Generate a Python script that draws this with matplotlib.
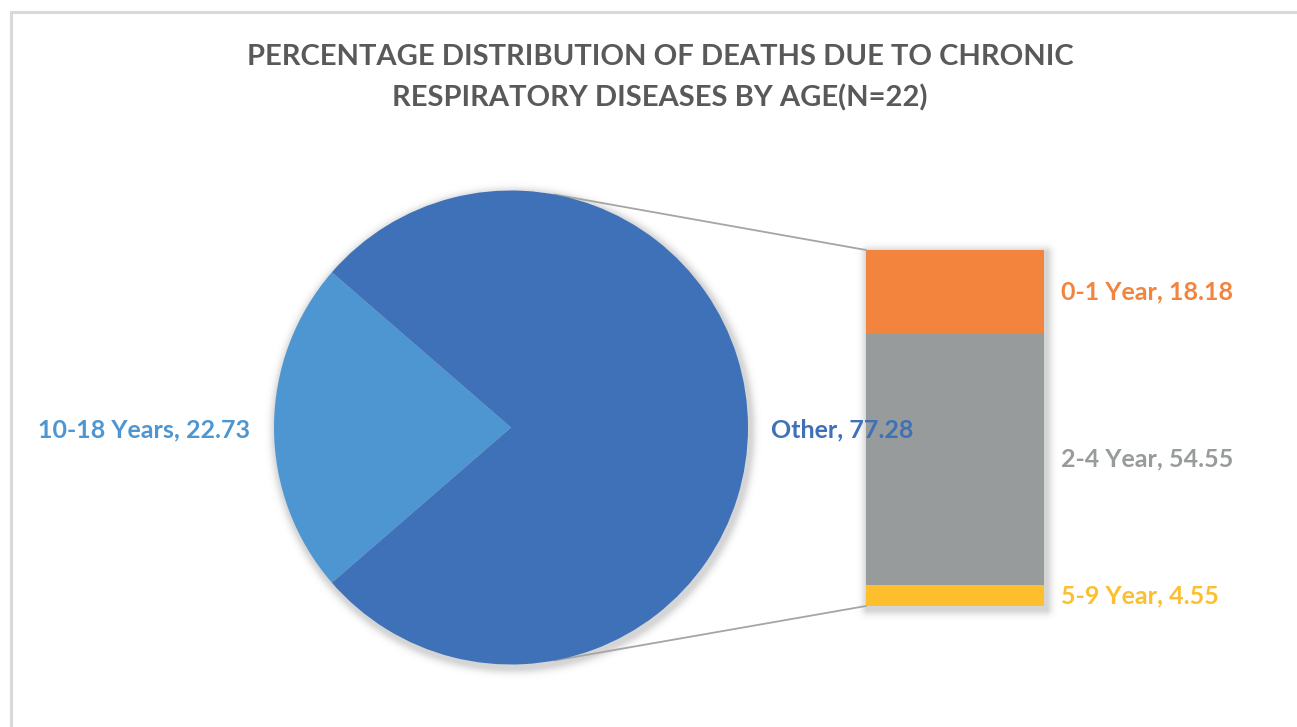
import numpy as np
import matplotlib.pyplot as plt
from matplotlib.patches import ConnectionPatch
from matplotlib.lines import Line2D

# ---- data ----
pie_labels = ["10-18 Years", "Other"]
pie_values = [22.73, 77.28]
pie_colors = ["#4E96D1", "#3F71B8"]

bar_labels = ["0-1 Year", "2-4 Year", "5-9 Year"]
bar_values = [18.18, 54.55, 4.55]
bar_colors = ["#F3843D", "#989B9C", "#FDBF2D"]

title = ("PERCENTAGE DISTRIBUTION OF DEATHS DUE TO CHRONIC\n"
         "RESPIRATORY DISEASES BY AGE(N=22)")

# ---- layout (pixels, origin at top-left) ----
W, H = 1297, 727
PIE_CX, PIE_CY, PIE_R = 511, 427.5, 237
BAR_X0, BAR_X1, BAR_Y0, BAR_Y1 = 866, 1044, 250, 606
FONT = ["Lato", "DejaVu Sans"]
LABEL_SIZE = 18
TITLE_SIZE = 21


def px_rect(x0, y0, x1, y1):
    return [x0 / W, 1 - y1 / H, (x1 - x0) / W, (y1 - y0) / H]


fig = plt.figure(figsize=(W / 100, H / 100), dpi=100)
fig.patch.set_facecolor("white")

# background layer: soft drop shadows and the chart border
bg = fig.add_axes([0, 0, 1, 1], zorder=0)
bg.set_axis_off()
bg.set_xlim(0, W)
bg.set_ylim(H, 0)
yy, xx = np.mgrid[0:H, 0:W] + 0.5
d_pie = np.hypot(xx - PIE_CX - 2, yy - PIE_CY - 3) - PIE_R
qx = np.abs(xx - (BAR_X0 + BAR_X1) / 2 - 2) - (BAR_X1 - BAR_X0) / 2
qy = np.abs(yy - (BAR_Y0 + BAR_Y1) / 2 - 3) - (BAR_Y1 - BAR_Y0) / 2
d_bar = np.hypot(np.maximum(qx, 0), np.maximum(qy, 0))
d = np.maximum(np.minimum(d_pie, d_bar), 0)
alpha = 0.30 * np.exp(-(d / 6.0) ** 2)
shadow = np.zeros((H, W, 4))
shadow[..., :3] = 0.45
shadow[..., 3] = alpha
bg.imshow(shadow, extent=(0, W, H, 0), interpolation="bilinear", zorder=0)
bg.add_line(Line2D([10.5, 10.5, W + 5], [H + 5, 11.5, 11.5],
                   color="#D9D9D9", lw=2.2, solid_joinstyle="miter", zorder=1))

# stacked bar breaking down the "Other" slice
bax = fig.add_axes(px_rect(BAR_X0, BAR_Y0, BAR_X1, BAR_Y1), zorder=1)
bottom = 0.0
for lab, val, col in reversed(list(zip(bar_labels, bar_values, bar_colors))):
    bax.bar(0, val, bottom=bottom, width=1.0, color=col, linewidth=0)
    bax.annotate(f"{lab}, {val:.2f}", xy=(0.5, bottom + val / 2),
                 xytext=(12, 0), textcoords="offset points",
                 ha="left", va="center", color=col, fontsize=LABEL_SIZE,
                 fontweight="bold", family=FONT)
    bottom += val
bax.set_xlim(-0.5, 0.5)
bax.set_ylim(0, sum(bar_values))
bax.set_axis_off()

# main pie
pax = fig.add_axes(px_rect(PIE_CX - PIE_R, PIE_CY - PIE_R,
                           PIE_CX + PIE_R, PIE_CY + PIE_R), zorder=2)
start = 180 - pie_values[0] / sum(pie_values) * 180
pax.pie(pie_values, colors=pie_colors, startangle=start, counterclock=True,
        radius=1.0, wedgeprops=dict(linewidth=0))
pax.set_xlim(-1, 1)
pax.set_ylim(-1, 1)
pax.set_axis_off()
pax.text(-1.10, -0.01, f"{pie_labels[0]}, {pie_values[0]:.2f}", ha="right",
         va="center", color=pie_colors[0], fontsize=LABEL_SIZE,
         fontweight="bold", family=FONT)
pax.text(1.097, -0.01, f"{pie_labels[1]}, {pie_values[1]:.2f}", ha="left",
         va="center", color=pie_colors[1], fontsize=LABEL_SIZE,
         fontweight="bold", family=FONT)

# connector lines from the pie to the bar
total = sum(bar_values)
for ang, yb in ((79.5, total), (-79.5, 0.0)):
    t = np.deg2rad(ang)
    con = ConnectionPatch(xyA=(np.cos(t), np.sin(t)), coordsA=pax.transData,
                          xyB=(-0.5, yb), coordsB=bax.transData,
                          color="#A5A5A5", lw=1.3, zorder=1.5)
    fig.add_artist(con)

fig.text(660 / W, 1 - 78 / H, title, ha="center", va="center",
         fontsize=TITLE_SIZE, fontweight="bold", color="#595959",
         family=FONT, linespacing=1.65)

fig.savefig("out.png", dpi=100, facecolor="white")
